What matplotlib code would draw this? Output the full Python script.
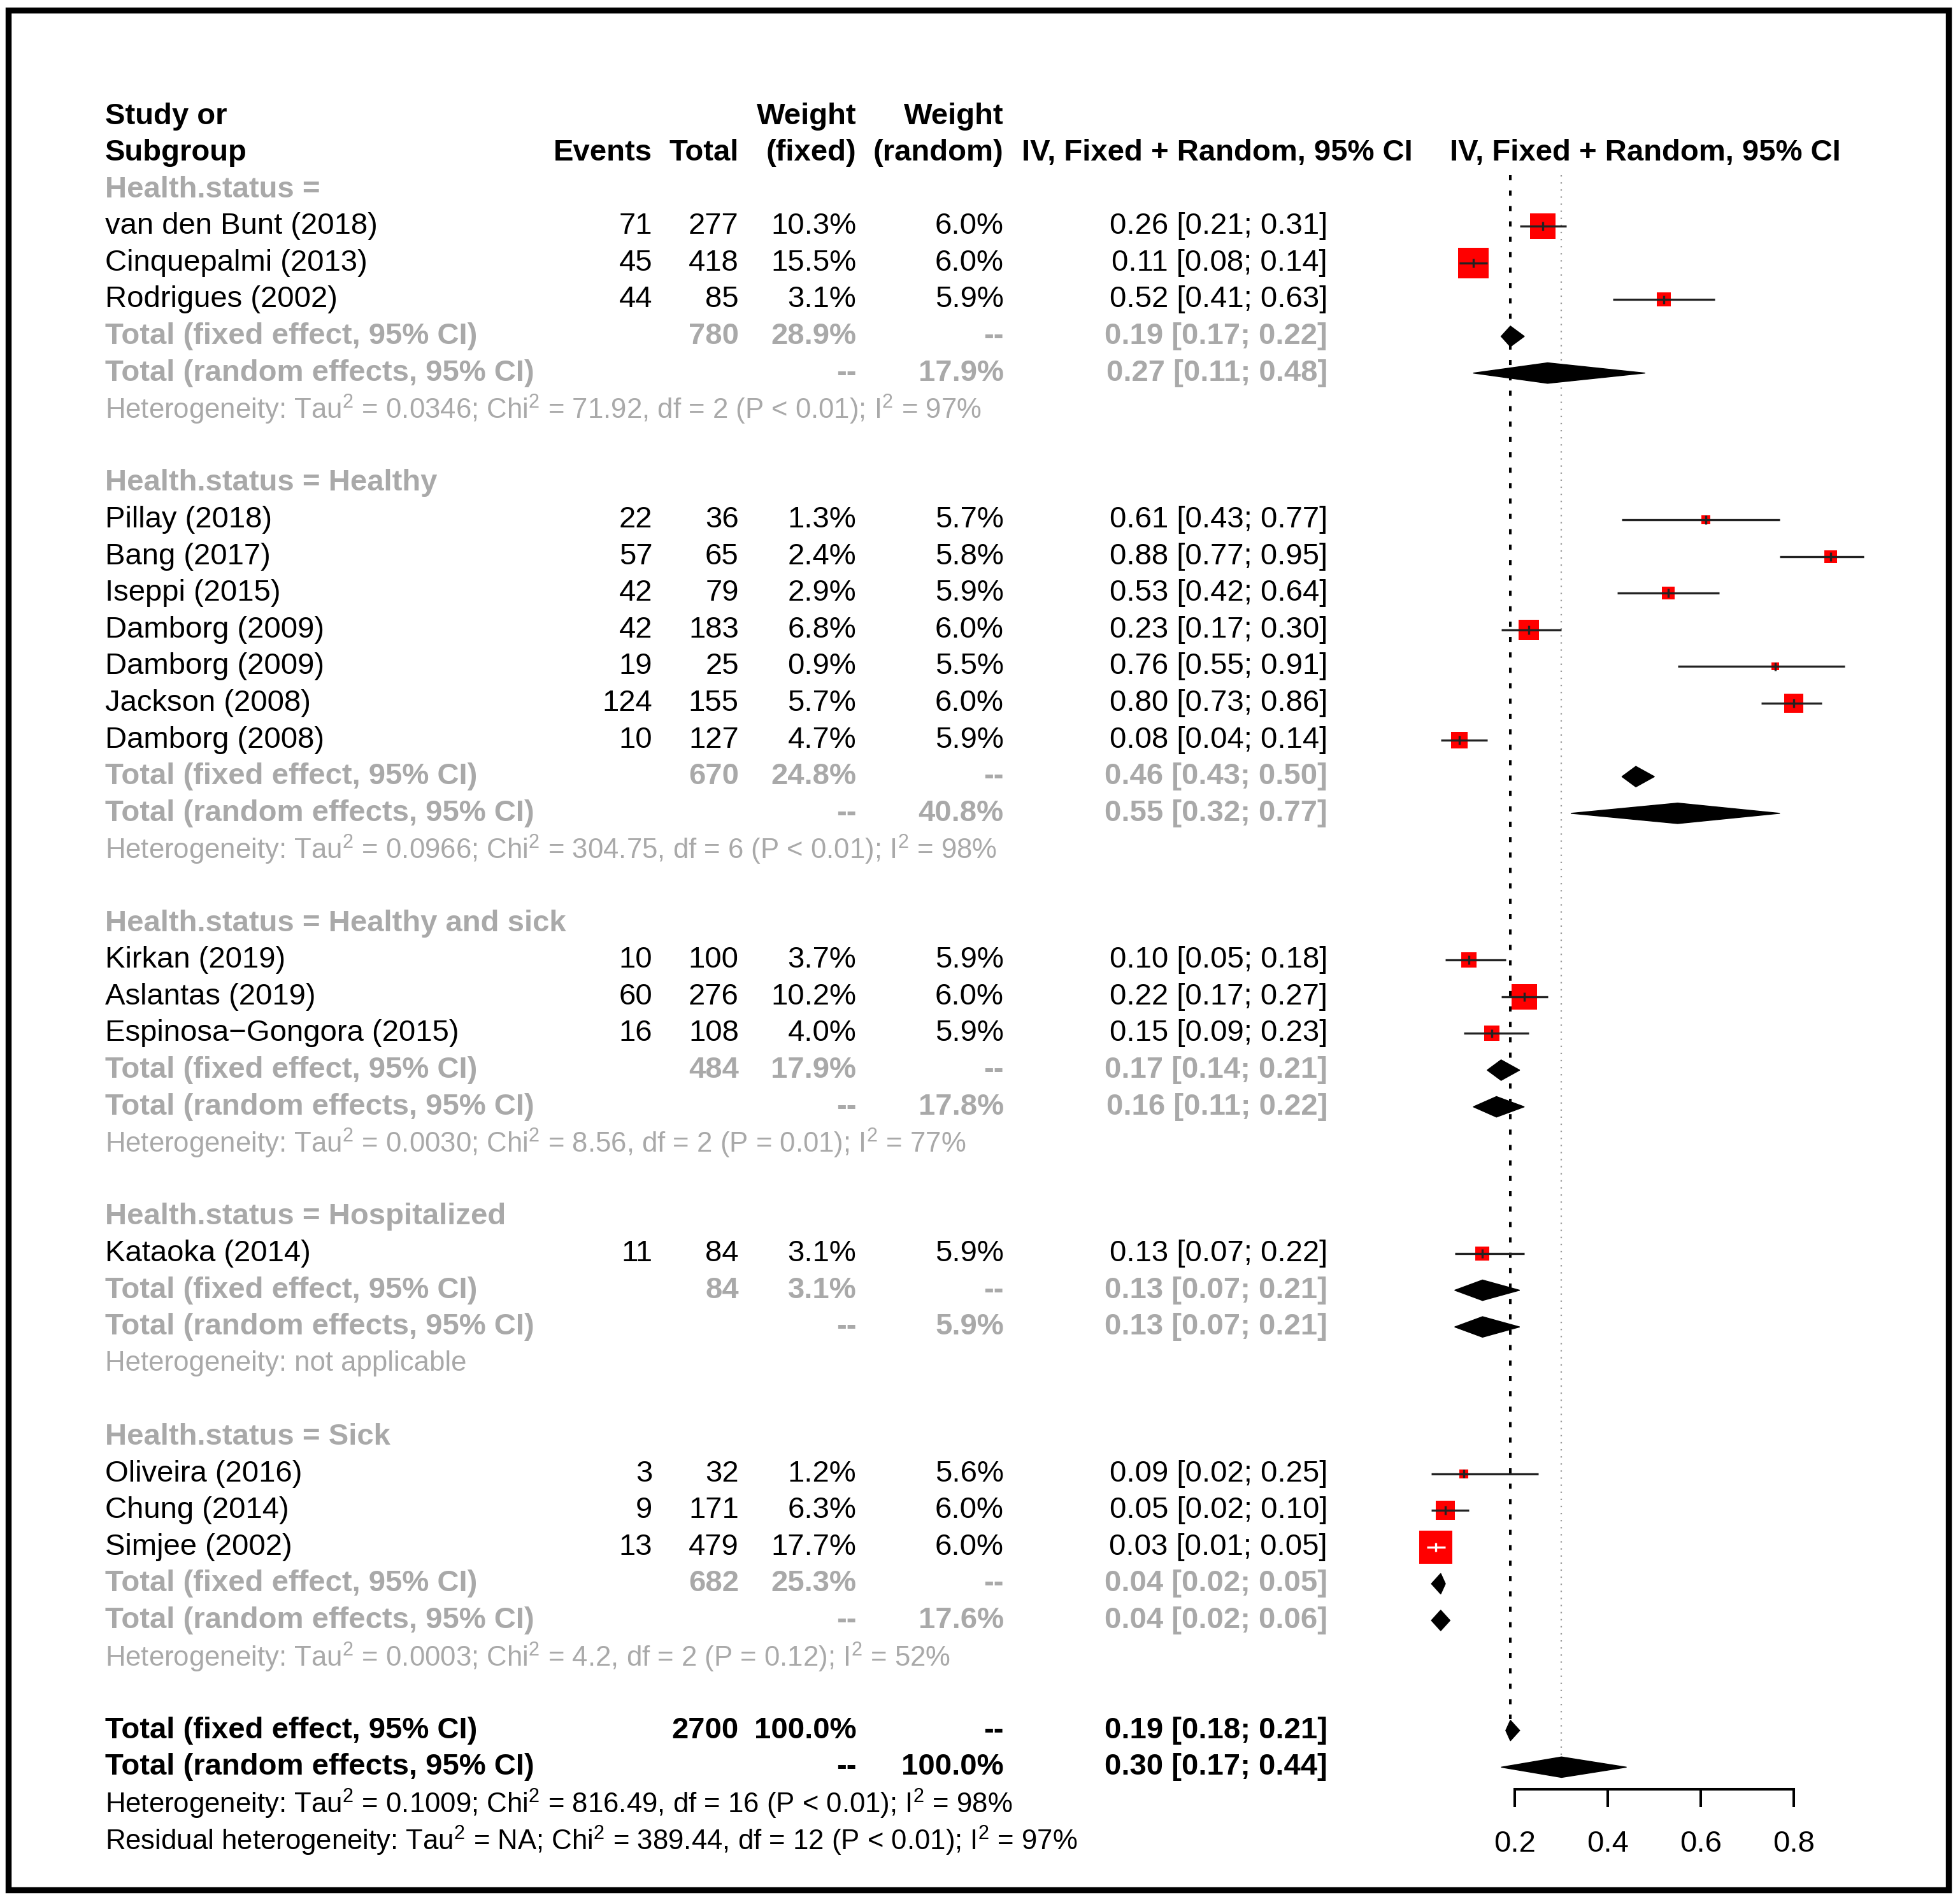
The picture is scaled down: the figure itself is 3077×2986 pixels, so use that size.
import matplotlib
matplotlib.use("Agg")
import matplotlib.pyplot as plt
from matplotlib.patches import Polygon, Rectangle
import numpy as np

plt.rcParams['font.family'] = ['Liberation Sans', 'DejaVu Sans']
plt.rcParams['mathtext.fontset'] = 'custom'
plt.rcParams['mathtext.rm'] = 'Liberation Sans'
plt.rcParams['mathtext.it'] = 'Liberation Sans:italic'
plt.rcParams['mathtext.bf'] = 'Liberation Sans:bold'

# ---- study level data ----
study = ['van den Bunt (2018)', 'Cinquepalmi (2013)', 'Rodrigues (2002)',
         'Pillay (2018)', 'Bang (2017)', 'Iseppi (2015)', 'Damborg (2009)',
         'Damborg (2009)', 'Jackson (2008)', 'Damborg (2008)',
         'Kirkan (2019)', 'Aslantas (2019)', 'Espinosa\u2212Gongora (2015)',
         'Kataoka (2014)',
         'Oliveira (2016)', 'Chung (2014)', 'Simjee (2002)']
group_of = [0, 0, 0, 1, 1, 1, 1, 1, 1, 1, 2, 2, 2, 3, 4, 4, 4]
events = [71, 45, 44, 22, 57, 42, 42, 19, 124, 10, 10, 60, 16, 11, 3, 9, 13]
totals = [277, 418, 85, 36, 65, 79, 183, 25, 155, 127, 100, 276, 108, 84, 32, 171, 479]
w_fixed = [10.3, 15.5, 3.1, 1.3, 2.4, 2.9, 6.8, 0.9, 5.7, 4.7, 3.7, 10.2, 4.0, 3.1, 1.2, 6.3, 17.7]
w_random = [6.0, 6.0, 5.9, 5.7, 5.8, 5.9, 6.0, 5.5, 6.0, 5.9, 5.9, 6.0, 5.9, 5.9, 5.6, 6.0, 6.0]
prop = [0.26, 0.11, 0.52, 0.61, 0.88, 0.53, 0.23, 0.76, 0.80, 0.08, 0.10, 0.22, 0.15, 0.13, 0.09, 0.05, 0.03]
lower = [0.21, 0.08, 0.41, 0.43, 0.77, 0.42, 0.17, 0.55, 0.73, 0.04, 0.05, 0.17, 0.09, 0.07, 0.02, 0.02, 0.01]
upper = [0.31, 0.14, 0.63, 0.77, 0.95, 0.64, 0.30, 0.91, 0.86, 0.14, 0.18, 0.27, 0.23, 0.22, 0.25, 0.10, 0.05]

# ---- subgroup data ----
group_label = ['Health.status = ', 'Health.status = Healthy', 'Health.status = Healthy and sick',
               'Health.status = Hospitalized', 'Health.status = Sick']
grp_n = [780, 670, 484, 84, 682]
grp_w_fixed = [28.9, 24.8, 17.9, 3.1, 25.3]
grp_w_random = [17.9, 40.8, 17.8, 5.9, 17.6]
grp_fixed = [0.19, 0.46, 0.17, 0.13, 0.04]
grp_fixed_lo = [0.17, 0.43, 0.14, 0.07, 0.02]
grp_fixed_hi = [0.22, 0.50, 0.21, 0.21, 0.05]
grp_random = [0.27, 0.55, 0.16, 0.13, 0.04]
grp_random_lo = [0.11, 0.32, 0.11, 0.07, 0.02]
grp_random_hi = [0.48, 0.77, 0.22, 0.21, 0.06]
grp_het = [r'Heterogeneity: Tau$^2$ = 0.0346; Chi$^2$ = 71.92, df = 2 (P < 0.01); I$^2$ = 97%',
           r'Heterogeneity: Tau$^2$ = 0.0966; Chi$^2$ = 304.75, df = 6 (P < 0.01); I$^2$ = 98%',
           r'Heterogeneity: Tau$^2$ = 0.0030; Chi$^2$ = 8.56, df = 2 (P = 0.01); I$^2$ = 77%',
           'Heterogeneity: not applicable',
           r'Heterogeneity: Tau$^2$ = 0.0003; Chi$^2$ = 4.2, df = 2 (P = 0.12); I$^2$ = 52%']

# ---- overall ----
overall_n = 2700
overall_w = 100.0
overall_fixed = [0.19, 0.18, 0.21]
overall_random = [0.30, 0.17, 0.44]
overall_het = [r'Heterogeneity: Tau$^2$ = 0.1009; Chi$^2$ = 816.49, df = 16 (P < 0.01); I$^2$ = 98%',
               r'Residual heterogeneity: Tau$^2$ = NA; Chi$^2$ = 389.44, df = 12 (P < 0.01); I$^2$ = 97%']

xticks = [0.2, 0.4, 0.6, 0.8]

# ---- layout (reference measured on a 1568 x 1521.6 grid) ----
W, H = 1568.0, 1521.6
row0_y, row_h = 93.0, 29.35
x_zero, px_per_unit = 1137.7, 371.7
col_name, col_ev, col_tot, col_wf, col_wr, col_ci, col_cihead = 84, 522, 591, 685, 803, 1062, 1130
FS, FS_HET = 34, 31.5
GREY = '#a9a9a9'

fig = plt.figure(figsize=(30.77, 29.86), dpi=100)
ax = fig.add_axes([0, 0, 1, 1])
ax.set_xlim(0, W)
ylim = ((H - row0_y) / row_h, -row0_y / row_h)
ax.set_ylim(*ylim)
ax.axis('off')

fax = fig.add_axes([0, 0, 1, 1])
fax.patch.set_alpha(0)
fax.set_xlim(-x_zero / px_per_unit, (W - x_zero) / px_per_unit)
fax.set_ylim(*ylim)


def txt(x, r, s, ha='right', bold=False, color='black', size=FS):
    ax.text(x, r, s, ha=ha, va='center', fontsize=size,
            fontweight='bold' if bold else 'normal', color=color)


def ci(e, l, u):
    return '%.2f [%.2f; %.2f]' % (e, l, u)


def diamond(e, l, u, r, h=0.28):
    fax.add_patch(Polygon([(l, r), (e, r - h), (u, r), (e, r + h)],
                          closed=True, fc='black', ec='black', lw=1, zorder=3))


# header
txt(col_name, 0, 'Study or', ha='left', bold=True)
txt(col_name, 1, 'Subgroup', ha='left', bold=True)
txt(col_ev, 1, 'Events', bold=True)
txt(col_tot, 1, 'Total', bold=True)
txt(col_wf, 0, 'Weight', bold=True)
txt(col_wf, 1, '(fixed)', bold=True)
txt(col_wr, 0, 'Weight', bold=True)
txt(col_wr, 1, '(random)', bold=True)
txt(col_cihead, 1, 'IV, Fixed + Random, 95% CI', bold=True)
fax.text(0.48, 1, 'IV, Fixed + Random, 95% CI', ha='center', va='center',
         fontsize=FS, fontweight='bold')

# square size scale (points^2 per % weight) and data width of one point
s_per_w = 78.0
pt_in_data = (100.0 / 72.0) * (3077.0 / W) ** -1 / px_per_unit

row = 2
for g in range(len(group_label)):
    txt(col_name, row, group_label[g], ha='left', bold=True, color=GREY)
    row += 1
    for i in [k for k in range(len(study)) if group_of[k] == g]:
        txt(col_name, row, study[i], ha='left')
        txt(col_ev, row, str(events[i]))
        txt(col_tot, row, str(totals[i]))
        txt(col_wf, row, '%.1f%%' % w_fixed[i])
        txt(col_wr, row, '%.1f%%' % w_random[i])
        txt(col_ci, row, ci(prop[i], lower[i], upper[i]))
        s = s_per_w * w_fixed[i]
        fax.scatter([prop[i]], [row], s=s, marker='s', color='red', lw=0, zorder=2)
        half = np.sqrt(s) / 2 * pt_in_data
        inside = max(prop[i] - lower[i], upper[i] - prop[i]) < 0.8 * half
        lc = 'white' if inside else '#222222'
        fax.hlines(row, lower[i], upper[i], color=lc, lw=2.4, zorder=4)
        fax.vlines(prop[i], row - 0.12, row + 0.12, color=lc, lw=2.4, zorder=4)
        row += 1
    # fixed effect total
    txt(col_name, row, 'Total (fixed effect, 95% CI)', ha='left', bold=True, color=GREY)
    txt(col_tot, row, str(grp_n[g]), bold=True, color=GREY)
    txt(col_wf, row, '%.1f%%' % grp_w_fixed[g], bold=True, color=GREY)
    txt(col_wr, row, '--', bold=True, color=GREY)
    txt(col_ci, row, ci(grp_fixed[g], grp_fixed_lo[g], grp_fixed_hi[g]), bold=True, color=GREY)
    diamond(grp_fixed[g], grp_fixed_lo[g], grp_fixed_hi[g], row)
    row += 1
    # random effects total
    txt(col_name, row, 'Total (random effects, 95% CI)', ha='left', bold=True, color=GREY)
    txt(col_wf, row, '--', bold=True, color=GREY)
    txt(col_wr, row, '%.1f%%' % grp_w_random[g], bold=True, color=GREY)
    txt(col_ci, row, ci(grp_random[g], grp_random_lo[g], grp_random_hi[g]), bold=True, color=GREY)
    diamond(grp_random[g], grp_random_lo[g], grp_random_hi[g], row)
    row += 1
    txt(col_name, row, grp_het[g], ha='left', color=GREY, size=FS_HET)
    row += 2

# overall
fixed_row = row
txt(col_name, row, 'Total (fixed effect, 95% CI)', ha='left', bold=True)
txt(col_tot, row, str(overall_n), bold=True)
txt(col_wf, row, '%.1f%%' % overall_w, bold=True)
txt(col_wr, row, '--', bold=True)
txt(col_ci, row, ci(*overall_fixed), bold=True)
diamond(overall_fixed[0], overall_fixed[1], overall_fixed[2], row)
row += 1
random_row = row
txt(col_name, row, 'Total (random effects, 95% CI)', ha='left', bold=True)
txt(col_wf, row, '--', bold=True)
txt(col_wr, row, '%.1f%%' % overall_w, bold=True)
txt(col_ci, row, ci(*overall_random), bold=True)
diamond(overall_random[0], overall_random[1], overall_random[2], row)
row += 1
for s_ in overall_het:
    txt(col_name, row, s_, ha='left', size=FS_HET)
    row += 1

# reference lines
fax.vlines(overall_fixed[0], 1.6, fixed_row - 0.3, color='black', lw=2.9,
           linestyle=(0, (2, 4)), zorder=1)
fax.vlines(overall_random[0], 1.6, random_row - 0.3, color='#9a9a9a', lw=1.6,
           linestyle=(0, (1, 4)), zorder=1)

# x axis
for side in ['left', 'right', 'top']:
    fax.spines[side].set_visible(False)
fax.spines['bottom'].set_position(('data', random_row + 0.6))
fax.spines['bottom'].set_bounds(xticks[0], xticks[-1])
fax.spines['bottom'].set_linewidth(2.9)
fax.set_yticks([])
fax.set_xticks(xticks)
fax.set_xticklabels(['%.1f' % t for t in xticks])
fax.tick_params(axis='x', direction='out', length=20, width=2.9, pad=26, labelsize=FS)

# outer frame
fig.patches.append(Rectangle((12.5 / 3077, 1 - 2966.5 / 2986), (3059 - 12.5) / 3077,
                             (2966.5 - 15.5) / 2986, transform=fig.transFigure,
                             fill=False, ec='black', lw=6.8))

fig.savefig('out.png', dpi=100, facecolor='white')
